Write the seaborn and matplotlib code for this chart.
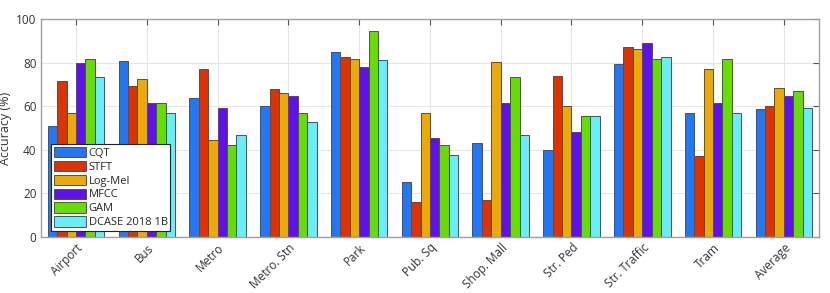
import pandas as pd
import numpy as np
import matplotlib.pyplot as plt
import seaborn as sns

# --- data ---
scenes = ['Airport', 'Bus', 'Metro', 'Metro. Stn', 'Park', 'Pub. Sq',
          'Shop. Mall', 'Str. Ped', 'Str. Traffic', 'Tram', 'Average']
methods = ['CQT', 'STFT', 'Log-Mel', 'MFCC', 'GAM', 'DCASE 2018 1B']
cqt = [51.0, 80.6, 64.0, 59.9, 84.7, 25.4, 43.0, 39.7, 79.3, 57.1, 58.7]
stft = [71.5, 69.1, 77.2, 67.7, 82.7, 16.2, 16.8, 73.7, 87.4, 37.4, 59.9]
logmel = [56.7, 72.3, 44.7, 66.3, 81.9, 57.0, 80.1, 59.9, 86.2, 77.2, 68.2]
mfcc = [79.8, 61.6, 59.4, 64.9, 78.1, 45.6, 61.3, 48.4, 89.1, 61.7, 64.9]
gam = [81.9, 61.6, 42.4, 57.0, 94.6, 42.1, 73.5, 55.4, 81.9, 81.6, 67.2]
dcase = [73.5, 56.7, 46.6, 53.0, 81.0, 37.8, 46.6, 55.6, 82.4, 56.7, 59.0]

colors = ['#2277f6', '#de3300', '#ecaa00', '#6010ee', '#66dd00', '#66eefb']

rows = []
for m, vals in zip(methods, [cqt, stft, logmel, mfcc, gam, dcase]):
    for s, v in zip(scenes, vals):
        rows.append({'Scene': s, 'Method': m, 'Accuracy': v})
df = pd.DataFrame(rows)

sns.set_theme(style='white')
plt.rcParams['font.family'] = ['Open Sans', 'DejaVu Sans']

fig = plt.figure(figsize=(8.3, 2.93), dpi=100)
ax = fig.add_axes([0.049, 0.191, 0.938, 0.744])

sns.barplot(data=df, x='Scene', y='Accuracy', hue='Method', order=scenes,
            hue_order=methods, palette=colors, width=0.8, saturation=1,
            edgecolor='#505050', linewidth=0.7, ax=ax)

ax.set_ylim(0, 100)
ax.set_xlim(-0.5, len(scenes) - 0.5)
ax.set_yticks([0, 20, 40, 60, 80, 100])
ax.set_xlabel('')
ax.set_ylabel('Accuracy (%)', fontsize=9, color='#333333', labelpad=3)
ax.grid(True, color='#e6e6e6', linewidth=0.8)
ax.set_axisbelow(True)
ax.tick_params(axis='both', direction='in', length=4, width=0.8,
               color='#555555', labelsize=8.5, labelcolor='#333333',
               top=True, right=True, pad=3)
plt.setp(ax.get_xticklabels(), rotation=45, ha='right', rotation_mode='anchor')
for sp in ax.spines.values():
    sp.set_color('#a0a0a0')
    sp.set_linewidth(1.0)

leg = ax.legend(loc='lower left', bbox_to_anchor=(0.013, 0.027), fontsize=8,
                frameon=True, fancybox=False, framealpha=1, edgecolor='#222222',
                borderpad=0.25, labelspacing=0.18, handlelength=2.9,
                handleheight=1.05, handletextpad=0.25, borderaxespad=0)
leg.get_frame().set_linewidth(0.8)

plt.savefig('out.png', dpi=100)
